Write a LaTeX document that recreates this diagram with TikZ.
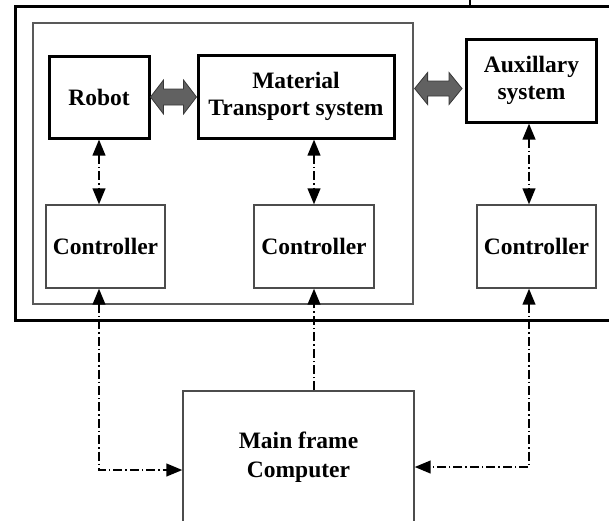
\documentclass[tikz,border=0pt]{standalone}
\usepackage{fontspec}
\setmainfont{Liberation Serif}
\usetikzlibrary{arrows.meta,calc}

\begin{document}
\begin{tikzpicture}[x=1pt,y=-1pt,
  >={Triangle[length=16pt,width=12.5pt]},
  every node/.style={font=\bfseries\fontsize{23.5}{27.5}\selectfont,
                     align=center, inner sep=0pt},
  frame/.style={draw=black, line width=3pt},
  cellframe/.style={draw=black!65, line width=1.2pt},
  heavybox/.style={draw=black, line width=3pt, minimum height=83pt},
  ctlbox/.style={draw=black!70, line width=1.2pt,
                 minimum width=119pt, minimum height=83pt},
  link/.style={line width=2.4pt, dash pattern=on 9pt off 3pt on 1.4pt off 3pt},
  fatarrow/.style={fill=black!62, draw=black!78, line width=0.8pt}
]
\useasboundingbox (0,0) rectangle (609,520);

% enclosing frames
\node[frame, minimum width=605pt, minimum height=314pt] (plant) at (317.5,163) {};
\node[cellframe, minimum width=380pt, minimum height=281pt] (cell) at (223,163.5) {};
\draw[line width=1.4pt] (470,-2) -- (470,6);

% equipment
\node[heavybox, minimum width=100pt, minimum height=82pt] (robot) at (99,97) {Robot};
\node[heavybox, minimum width=196pt] (mts) at (296,96.5) {Material\\Transport system};
\node[heavybox, minimum width=130pt] (aux) at (531.5,80.5) {Auxillary\\system};

% controllers
\node[ctlbox] (ctlL) at (105.5,246.5) {Controller};
\node[ctlbox, minimum width=120pt] (ctlM) at (314,246.5) {Controller};
\node[ctlbox] (ctlR) at (536.5,246.5) {Controller};

% host computer
\node[draw=black!70, line width=1.2pt, minimum width=231pt, minimum height=132pt]
  (main) at (298.5,457) {Main frame\\[1.5pt]Computer};

% material flow between equipment
\coordinate (la) at (robot.east);
\coordinate (lb) at (robot.east -| mts.west);
\filldraw[fatarrow] (la) -- ++(13,-17) -- ++(0,9) -- ($(lb)+(-13,-8)$) -- ++(0,-9)
  -- (lb) -- ++(-13,17) -- ++(0,-9) -- ($(la)+(13,8)$) -- ++(0,9) -- cycle;

\coordinate (mid) at ($(mts.center)!0.5!(aux.center)$);
\coordinate (ra) at ($(cell.east |- mid)+(1,0)$);
\coordinate (rb) at ($(aux.west |- mid)+(-3,0)$);
\filldraw[fatarrow] (ra) -- ++(13,-16) -- ++(0,8.5) -- ($(rb)+(-13,-7.5)$) -- ++(0,-8.5)
  -- (rb) -- ++(-13,16) -- ++(0,-8.5) -- ($(ra)+(13,7.5)$) -- ++(0,8.5) -- cycle;

% equipment to controller links
\coordinate (colR) at (529,0);
\draw[link,<->] (robot.south) -- (robot.south |- ctlL.north);
\draw[link,<->] (ctlM.north |- mts.south) -- (ctlM.north);
\draw[link,<->] (colR |- aux.south) -- (colR |- ctlR.north);

% controller to host links
\coordinate (lj) at ($(main.west)+(0,13)$);
\coordinate (rj) at ($(main.east)+(0,10)$);
\draw[link,<->] (robot.south |- ctlL.south) -- (robot.south |- lj) -- (lj);
\draw[link,->] (ctlM.south |- main.north) -- (ctlM.south);
\draw[link,<->] (colR |- ctlR.south) -- (colR |- rj) -- (rj);
\end{tikzpicture}
\end{document}
